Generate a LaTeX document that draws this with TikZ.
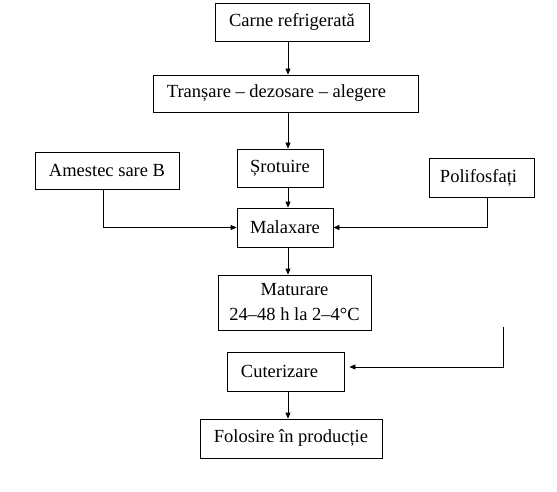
\documentclass[tikz,border=0pt]{standalone}
\usepackage{fontspec}
\setmainfont{Liberation Serif}
\usetikzlibrary{arrows.meta}

\begin{document}
\begin{tikzpicture}[x=1pt, y=-1pt,
    box/.style={draw, line width=0.8pt, inner sep=0pt, align=center, font=\fontsize{18.5}{25}\selectfont},
    arr/.style={line width=0.8pt, -{Triangle[length=6pt, width=5pt]}}]
        \useasboundingbox (0,0) rectangle (557,492);
        \coordinate (spine) at (288,0);

        \node[box, minimum width=154pt, minimum height=38pt] (carne)       at (292,  22)   {Carne refrigerată};
        \node[box, minimum width=265pt, minimum height=37pt] (transare)    at (285.5, 93.5) {Tranșare – dezosare – alegere\hspace{18pt}};
        \node[box, minimum width=86pt,  minimum height=38pt] (srotuire)    at (280, 168)   {Șrotuire};
        \node[box, minimum width=144pt, minimum height=37pt] (amestec)     at (107, 170.5) {Amestec sare B};
        \node[box, minimum width=105pt, minimum height=39pt] (polifosfati) at (481.5, 177.5) {Polifosfați\hspace{6pt}};
        \node[box, minimum width=96pt,  minimum height=39pt] (malaxare)    at (285, 227.5) {Malaxare};
        \node[box, minimum width=153pt, minimum height=55pt] (maturare)    at (294.5, 302.5) {Maturare\\24–48 h la 2–4°C};
        \node[box, minimum width=117pt, minimum height=39pt] (cuterizare)  at (285.5, 371.5) {Cuterizare\hspace{12pt}};
        \node[box, minimum width=182pt, minimum height=39pt] (folosire)    at (291, 438.5) {Folosire în producție};

        \draw[arr] (carne.south -| spine) -- (transare.north -| spine);
        \draw[arr] (transare.south -| spine) -- (srotuire.north -| spine);
        \draw[arr] (srotuire.south -| spine) -- (malaxare.north -| spine);
        \draw[arr] ([xshift=-4pt]amestec.south) |- (malaxare.west);
        \draw[arr] ([xshift=5.5pt]polifosfati.south) |- (malaxare.east);
        \draw[arr] (malaxare.south -| spine) -- (maturare.north -| spine);

        \coordinate (free) at (503, 327);
        \coordinate (bend) at (503, 367);
        \draw[arr, shorten >=5pt] (free) -- (bend) -- (bend -| cuterizare.east);

        \draw[arr] (cuterizare.south -| spine) -- (folosire.north -| spine);
    \end{tikzpicture}
\end{document}
